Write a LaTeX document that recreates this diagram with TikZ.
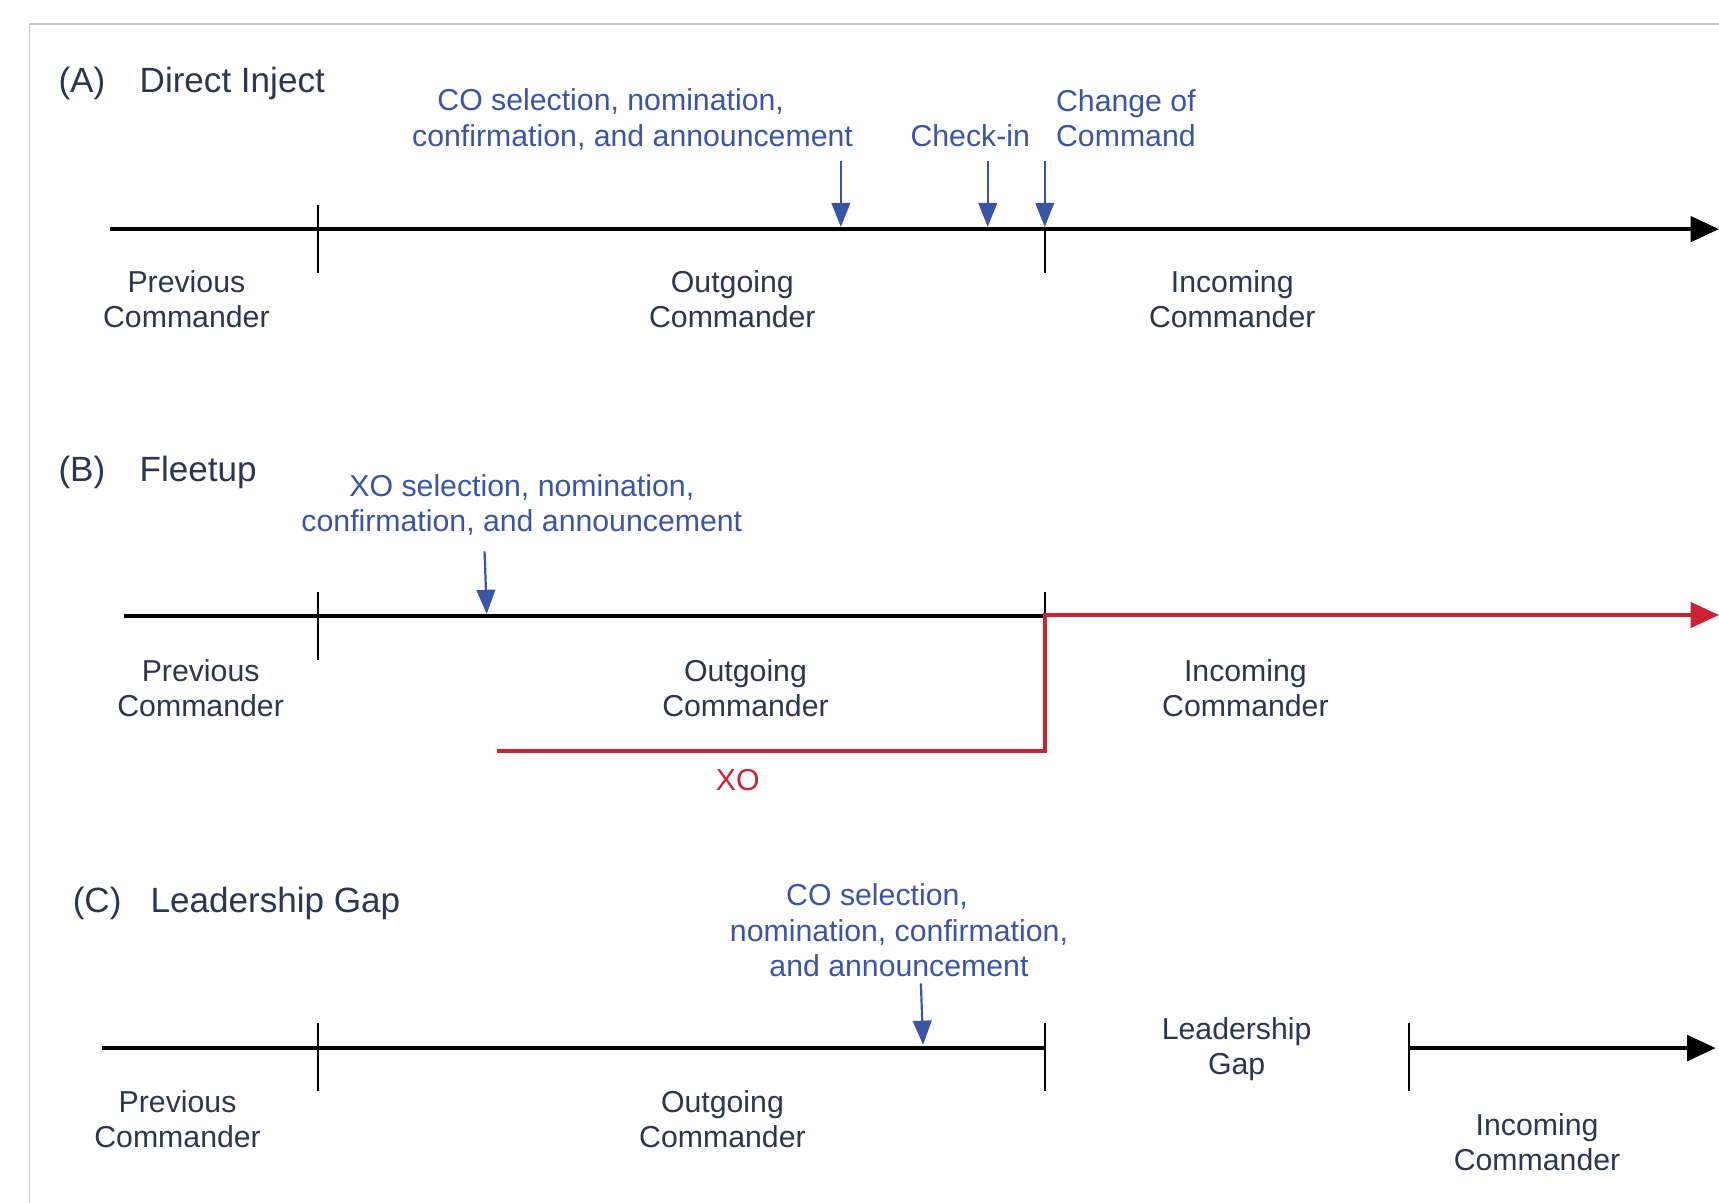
\documentclass[tikz,border=0pt]{standalone}
\usepackage{fontspec}
\setmainfont{Liberation Sans}
\usetikzlibrary{arrows.meta}
\definecolor{navy}{HTML}{2B3650}
\definecolor{eventblue}{HTML}{3A55A8}
\definecolor{xored}{HTML}{CC2233}
\definecolor{framegray}{HTML}{C4C4C4}
\begin{document}
\begin{tikzpicture}[x=0.5pt,y=-0.5pt,
  lab/.style={font=\fontsize{13.8}{16}\selectfont, text=navy, align=center, inner sep=0pt},
  head/.style={font=\fontsize{16}{19}\selectfont, text=navy, inner sep=0pt, anchor=west},
  evt/.style={font=\fontsize{13.8}{16}\selectfont, text=eventblue, align=center, inner sep=0pt},
  xolab/.style={font=\fontsize{13.8}{16}\selectfont, text=xored, inner sep=0pt},
  timeline/.style={line width=2pt, black},
  tickmark/.style={line width=0.8pt, black},
  evarrow/.style={eventblue, line width=1pt, -{Triangle[length=11pt,width=8.5pt]}},
  bigtip/.style={-{Triangle[length=13pt,width=11.5pt]}},
  xoline/.style={xored, line width=1.9pt},
]
\useasboundingbox (0,0) rectangle (1568,1097);
% frame
\draw[framegray, line width=0.8pt] (27,1097) -- (27,22) -- (1568,22);

% ---------------- (A) Direct Inject ----------------
\node[head] (hAl) at (53,76) {(A)};
\node[head] (hAt) at (127,76) {Direct Inject};
\node[evt] (coA) at (577,109) {CO selection, nomination,\hspace*{20pt}\\confirmation, and announcement};
\node[evt] (ciA) at (885,124) {Check-in};
\node[evt] (ccA) at (1027,108) {Change of\\Command};

\coordinate (a0) at (100,209);
\coordinate (a1) at (1568,209);
\draw[timeline, bigtip] (a0) -- (a1);
\coordinate (at1u) at (290,187); \coordinate (at1d) at (290,249);
\coordinate (at2u) at (953,209); \coordinate (at2d) at (953,249);
\draw[tickmark] (at1u) -- (at1d);
\draw[tickmark] (at2u) -- (at2d);

\coordinate (eA1s) at (767,147); \coordinate (eA1e) at (767,207);
\coordinate (eA2s) at (901,147); \coordinate (eA2e) at (901,207);
\coordinate (eA3s) at (953,147); \coordinate (eA3e) at (953,207);
\draw[evarrow] (eA1s) -- (eA1e);
\draw[evarrow] (eA2s) -- (eA2e);
\draw[evarrow] (eA3s) -- (eA3e);

\node[lab] (prevA) at (170,273) {Previous\\Commander};
\node[lab] (outA) at (668,273) {Outgoing\\Commander};
\node[lab] (incA) at (1124,273) {Incoming\\Commander};

% ---------------- (B) Fleetup ----------------
\node[head] (hBl) at (53,431) {(B)};
\node[head] (hBt) at (127,431) {Fleetup};
\node[evt] (xoB) at (476,460.5) {XO selection, nomination,\\confirmation, and announcement};

\coordinate (b0) at (113,562);
\coordinate (b1) at (953,562);
\draw[timeline] (b0) -- (b1);
\coordinate (bt1u) at (290,540); \coordinate (bt1d) at (290,602);
\coordinate (bt2u) at (953,540);
\draw[tickmark] (bt1u) -- (bt1d);
\draw[tickmark] (bt2u) -- (b1);

\coordinate (eBs) at (442,503); \coordinate (eBe) at (444,560);
\draw[evarrow] (eBs) -- (eBe);

\coordinate (x0) at (453,685);
\coordinate (x1) at (953,685);
\coordinate (x2) at (953,561);
\coordinate (x3) at (1568,561);
\draw[xoline, bigtip] (x0) -- (x1) -- (x2) -- (x3);
\node[xolab] (xo) at (673,712) {XO};

\node[lab] (prevB) at (183,628) {Previous\\Commander};
\node[lab] (outB) at (680,628) {Outgoing\\Commander};
\node[lab] (incB) at (1136,628) {Incoming\\Commander};

% ---------------- (C) Leadership Gap ----------------
\node[head] (hCl) at (66,824) {(C)};
\node[head] (hCt) at (137,824) {Leadership Gap};
\node[evt] (coC) at (820,848.5) {CO selection,\hspace*{20pt}\\nomination, confirmation,\\and announcement};

\coordinate (c0) at (93,956);
\coordinate (c1) at (953,956);
\draw[timeline] (c0) -- (c1);
\coordinate (ct1u) at (290,933); \coordinate (ct1d) at (290,995);
\coordinate (ct2u) at (953,933); \coordinate (ct2d) at (953,995);
\coordinate (ct3u) at (1285,933); \coordinate (ct3d) at (1285,995);
\draw[tickmark] (ct1u) -- (ct1d);
\draw[tickmark] (ct2u) -- (ct2d);
\draw[tickmark] (ct3u) -- (ct3d);
\coordinate (c2) at (1285,956);
\coordinate (c3) at (1565,956);
\draw[timeline, bigtip] (c2) -- (c3);

\coordinate (eCs) at (840,897); \coordinate (eCe) at (842,953);
\draw[evarrow] (eCs) -- (eCe);

\node[lab] (gapC) at (1128,957) {Leadership\\Gap};
\node[lab] (prevC) at (162,1021) {Previous\\Commander};
\node[lab] (outC) at (659,1021) {Outgoing\\Commander};
\node[lab] (incC) at (1402,1042) {Incoming\\Commander};
\end{tikzpicture}
\end{document}
